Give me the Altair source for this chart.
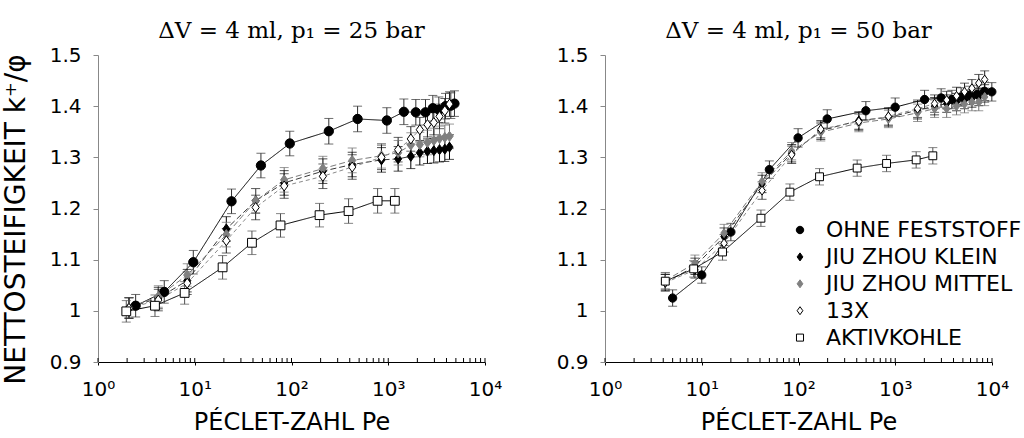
import altair as alt
import pandas as pd

SERIES = ["OHNE FESTSTOFF", "JIU ZHOU KLEIN", "JIU ZHOU MITTEL", "13X", "AKTIVKOHLE"]

# ---- left panel: dV = 4 ml, p1 = 25 bar ----
L_OHNE_PE = [2.45, 4.84, 9.66, 24, 48.3, 96, 243, 482, 967, 1450, 1928, 2427, 2890, 3333, 3907, 4432, 4834]
L_OHNE_K = [1.010, 1.037, 1.095, 1.214, 1.284, 1.327, 1.351, 1.375, 1.372, 1.389, 1.388, 1.388, 1.396, 1.393, 1.400, 1.401, 1.405]
L_OHNE_E = [0.022, 0.022, 0.023, 0.024, 0.024, 0.024, 0.025, 0.025, 0.025, 0.025, 0.025, 0.025, 0.025, 0.025, 0.025, 0.025, 0.025]

L_D_PE = [2.09, 4.2, 8.36, 21.2, 42.6, 84, 211, 424, 851, 1265, 1711, 2120, 2542, 2959, 3388, 3843, 4295]
L_KLEIN_K = [1.006, 1.025, 1.059, 1.160, 1.215, 1.250, 1.273, 1.286, 1.295, 1.297, 1.302, 1.309, 1.312, 1.313, 1.315, 1.316, 1.320]
L_MITTEL_K = [1.006, 1.028, 1.070, 1.149, 1.215, 1.256, 1.278, 1.294, 1.303, 1.309, 1.324, 1.325, 1.329, 1.333, 1.337, 1.339, 1.341]
L_13X_K = [1.005, 1.021, 1.054, 1.137, 1.202, 1.244, 1.263, 1.281, 1.300, 1.315, 1.336, 1.354, 1.364, 1.368, 1.380, 1.391, 1.404]
L_D_E = [0.020, 0.021, 0.022, 0.024, 0.024, 0.024, 0.024, 0.024, 0.024, 0.024, 0.024, 0.024, 0.024, 0.024, 0.024, 0.024, 0.024]

L_AK_PE = [1.96, 3.88, 7.86, 19.4, 39, 77, 195, 389, 776, 1170]
L_AK_K = [0.999, 1.010, 1.035, 1.085, 1.133, 1.167, 1.187, 1.195, 1.215, 1.215]
L_AK_E = [0.021, 0.021, 0.022, 0.023, 0.023, 0.023, 0.023, 0.024, 0.024, 0.024]

# ---- right panel: dV = 4 ml, p1 = 50 bar ----
R_OHNE_PE = [5, 10, 20, 50, 99, 198, 497, 998, 2009, 2980, 3846, 4797, 5863, 7021, 8362, 9960]
R_OHNE_K = [1.025, 1.070, 1.154, 1.276, 1.338, 1.375, 1.391, 1.398, 1.413, 1.416, 1.413, 1.418, 1.421, 1.423, 1.429, 1.428]
R_OHNE_E = [0.016, 0.016, 0.017, 0.017, 0.018, 0.018, 0.018, 0.018, 0.018, 0.018, 0.018, 0.018, 0.018, 0.018, 0.018, 0.018]

R_D_PE = [4.2, 8.5, 17, 42, 85, 170, 420, 850, 1700, 2550, 3400, 4300, 5200, 6200, 7300, 8400]
R_KLEIN_K = [1.055, 1.087, 1.145, 1.248, 1.308, 1.352, 1.372, 1.378, 1.392, 1.400, 1.405, 1.408, 1.412, 1.415, 1.418, 1.425]
R_MITTEL_K = [1.059, 1.093, 1.152, 1.253, 1.312, 1.349, 1.367, 1.375, 1.387, 1.395, 1.395, 1.400, 1.404, 1.408, 1.408, 1.418]
R_13X_K = [1.055, 1.080, 1.132, 1.235, 1.305, 1.355, 1.370, 1.380, 1.395, 1.405, 1.412, 1.420, 1.428, 1.435, 1.445, 1.452]
R_D_E = [0.016, 0.016, 0.017, 0.017, 0.017, 0.017, 0.017, 0.017, 0.017, 0.017, 0.017, 0.017, 0.017, 0.017, 0.017, 0.017]

R_AK_PE = [4.2, 8.25, 16.4, 40.9, 81.5, 165, 404, 813, 1645, 2445]
R_AK_K = [1.058, 1.082, 1.115, 1.181, 1.232, 1.262, 1.279, 1.288, 1.295, 1.303]
R_AK_E = [0.016, 0.016, 0.016, 0.016, 0.016, 0.016, 0.016, 0.016, 0.016, 0.016]

X_TICKS = [1, 2, 3, 4, 5, 6, 7, 8, 9, 10, 20, 30, 40, 50, 60, 70, 80, 90,
           100, 200, 300, 400, 500, 600, 700, 800, 900, 1000, 2000, 3000, 4000,
           5000, 6000, 7000, 8000, 9000, 10000]
Y_TICKS = [0.9, 1.0, 1.1, 1.2, 1.3, 1.4, 1.5]

CIRCLE = "M0.93,0A0.93,0.93 0 1,1 -0.93,0A0.93,0.93 0 1,1 0.93,0Z"
DIAMOND = "M0,-1L0.72,0L0,1L-0.72,0Z"
SQUARE = "M-0.88,-0.88L0.88,-0.88L0.88,0.88L-0.88,0.88Z"
SHAPES = [CIRCLE, DIAMOND, DIAMOND, DIAMOND, SQUARE]
FILLS = ["#000000", "#000000", "#808080", "#ffffff", "#ffffff"]
STROKES = ["#000000", "#000000", "#808080", "#000000", "#000000"]
LINE_COLORS = ["#000000", "#3a3a3a", "#7a7a7a", "#8a8a8a", "#000000"]
DASHES = [[1, 0], [6, 3], [6, 3], [4, 3], [1, 0]]
ERR_COLORS = ["#303030", "#000000", "#6e6e6e", "#202020", "#505050"]

W, H = 387, 307


def rows(series, pe, k, err):
    return [dict(series=series, pe=p, k=v, lo=v - e, hi=v + e) for p, v, e in zip(pe, k, err)]


left_df = pd.DataFrame(
    rows(SERIES[0], L_OHNE_PE, L_OHNE_K, L_OHNE_E)
    + rows(SERIES[1], L_D_PE, L_KLEIN_K, L_D_E)
    + rows(SERIES[2], L_D_PE, L_MITTEL_K, L_D_E)
    + rows(SERIES[3], L_D_PE, L_13X_K, L_D_E)
    + rows(SERIES[4], L_AK_PE, L_AK_K, L_AK_E)
)
right_df = pd.DataFrame(
    rows(SERIES[0], R_OHNE_PE, R_OHNE_K, R_OHNE_E)
    + rows(SERIES[1], R_D_PE, R_KLEIN_K, R_D_E)
    + rows(SERIES[2], R_D_PE, R_MITTEL_K, R_D_E)
    + rows(SERIES[3], R_D_PE, R_13X_K, R_D_E)
    + rows(SERIES[4], R_AK_PE, R_AK_K, R_AK_E)
)
ticks_df = pd.DataFrame({"t": X_TICKS})

XS = alt.Scale(type="log", domain=[1, 10000], nice=False)
YS = alt.Scale(domain=[0.9, 1.5], nice=False, zero=False)

X_LABEL = ("datum.value == 1 ? '10⁰' : datum.value == 10 ? '10¹' : datum.value == 100 ? '10²' : "
           "datum.value == 1000 ? '10³' : datum.value == 10000 ? '10⁴' : ''")

LEG = dict(title=None, orient="none", legendX=184, legendY=164, labelFont="DejaVu Sans",
           labelFontSize=22, labelColor="#000000", symbolSize=64, symbolStrokeWidth=1,
           rowPadding=4.9, labelOffset=15, padding=0, symbolOpacity=1, labelLimit=0)


def panel(df, title, ytitle, legend, msize):
    xaxis = alt.Axis(values=[1, 10, 100, 1000, 10000], labelExpr=X_LABEL, title="PÉCLET-ZAHL Pe",
                     tickSize=3, tickColor="#000000", domainColor="#000000", labelFontSize=20,
                     titleFontSize=24, titlePadding=11, labelPadding=14, labelFlush=False)
    yaxis = alt.Axis(values=Y_TICKS, format=".2~f", title=ytitle, tickSize=5, tickColor="#888888",
                     domainColor="#888888", labelFontSize=20, labelPadding=12, titleFontSize=28,
                     titlePadding=19, titleY=164)
    x = alt.X("pe:Q", scale=XS, axis=xaxis)
    y = alt.Y("k:Q", scale=YS, axis=yaxis)
    base = alt.Chart(df)
    tks = alt.Chart(ticks_df).mark_rule(color="#000000", strokeWidth=1).encode(
        x=alt.X("t:Q", scale=XS, axis=xaxis), y=alt.value(H), y2=alt.value(H - 4))
    lines = base.mark_line(strokeWidth=1).encode(
        x=x, y=y,
        color=alt.Color("series:N", scale=alt.Scale(domain=SERIES, range=LINE_COLORS), legend=None),
        strokeDash=alt.StrokeDash("series:N", scale=alt.Scale(domain=SERIES, range=DASHES), legend=None),
    )
    ecol = alt.Color("series:N", scale=alt.Scale(domain=SERIES, range=ERR_COLORS), legend=None)
    err = base.mark_rule(strokeWidth=1).encode(
        x=x, y=alt.Y("lo:Q", scale=YS, axis=yaxis), y2="hi:Q", color=ecol)
    cap_lo = base.mark_tick(orient="horizontal", size=9, thickness=1).encode(
        x=x, y=alt.Y("lo:Q", scale=YS, axis=yaxis), color=ecol)
    cap_hi = base.mark_tick(orient="horizontal", size=9, thickness=1).encode(
        x=x, y=alt.Y("hi:Q", scale=YS, axis=yaxis), color=ecol)
    leg = alt.Legend(**LEG) if legend else None
    pts = base.mark_point(filled=True, opacity=1, strokeWidth=1, size=msize).encode(
        x=x, y=y,
        shape=alt.Shape("series:N", scale=alt.Scale(domain=SERIES, range=SHAPES), legend=leg),
        fill=alt.Fill("series:N", scale=alt.Scale(domain=SERIES, range=FILLS), legend=leg),
        stroke=alt.Stroke("series:N", scale=alt.Scale(domain=SERIES, range=STROKES), legend=leg),
    )
    return alt.layer(tks, lines, err, cap_lo, cap_hi, pts).resolve_scale(
        color="independent", strokeDash="independent"
    ).properties(
        width=W, height=H,
        title=alt.TitleParams(title, font="DejaVu Serif", fontSize=23, fontWeight="normal",
                              color="#000000", offset=2, anchor="middle"),
    )


left = panel(left_df, "ΔV = 4 ml, p₁ = 25 bar", "NETTOSTEIFIGKEIT k⁺/φ", False, 100)
right = panel(right_df, "ΔV = 4 ml, p₁ = 50 bar", None, True, 80)

chart = alt.hconcat(left, right, spacing=54).resolve_scale(
    shape="independent", fill="independent", stroke="independent", color="independent",
    strokeDash="independent"
).resolve_legend(shape="independent", fill="independent", stroke="independent").properties(
    padding={"left": 2, "top": 20, "right": 0, "bottom": 0}
).configure_view(stroke=None).configure_axis(
    grid=False, labelFont="DejaVu Sans", titleFont="DejaVu Sans", labelColor="#000000",
    titleColor="#000000", titleFontWeight="normal"
)

chart.save("out.html", embed_options={"renderer": "svg", "actions": False})
